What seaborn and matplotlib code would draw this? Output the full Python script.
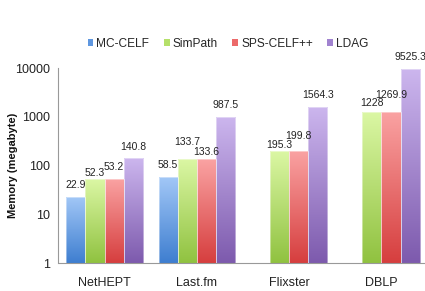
import numpy as np
import pandas as pd
import matplotlib
matplotlib.use("Agg")
import matplotlib.pyplot as plt
from matplotlib.patches import Patch
from matplotlib.colors import to_rgb
import seaborn as sns

# ---- data ----
datasets = ["NetHEPT", "Last.fm", "Flixster", "DBLP"]
algorithms = ["MC-CELF", "SimPath", "SPS-CELF++", "LDAG"]
mc_celf = [22.9, 58.5, np.nan, np.nan]
simpath = [52.3, 133.7, 195.3, 1228]
sps_celf = [53.2, 133.6, 199.8, 1269.9]
ldag = [140.8, 987.5, 1564.3, 9525.3]
y_ticks = [1, 10, 100, 1000, 10000]
y_tick_labels = ["1", "10", "100", "1000", "10000"]

# ---- style ----
grad_top = ["#A3C8F7", "#DBF7A4", "#FAA3A3", "#CCB6EE"]
grad_bot = ["#3E7ED0", "#90C240", "#D63E3E", "#7D5AAD"]
legend_cols = ["#5F97E0", "#B5E06A", "#EC6A6A", "#A183D0"]
label_offsets_px = [
    [12, 12, None, None],
    [6.5, 17.5, 6, 9],
    [11.5, 7, 15, 17],
    [11, 12, 12, 12],
]

sns.set_theme(style="white")
plt.rcParams["font.family"] = ["Liberation Sans", "DejaVu Sans"]

series = [mc_celf, simpath, sps_celf, ldag]
df = pd.DataFrame({
    "dataset": [d for s in series for d in datasets],
    "algorithm": [a for a in algorithms for _ in datasets],
    "memory": [v for s in series for v in s],
})

fig = plt.figure(figsize=(4.25, 2.91), dpi=100)
ax = fig.add_axes([58.5 / 425, 1 - 263 / 291, 369 / 425, 195 / 291])

sns.barplot(data=df, x="dataset", y="memory", hue="algorithm",
            order=datasets, hue_order=algorithms, palette=legend_cols,
            width=0.83, ax=ax, legend=False, errorbar=None,
            linewidth=0, saturation=1)

ax.set_yscale("log")
ax.set_ylim(1, 10000)
ax.set_xlim(-0.5, 3.5)

to_axes = ax.transData + ax.transAxes.inverted()
N = 256
for i, cont in enumerate(ax.containers):
    top = np.array(to_rgb(grad_top[i]))
    bot = np.array(to_rgb(grad_bot[i]))
    t = np.linspace(0, 1, N)[:, None]
    img = (top[None, :] * (1 - t) + bot[None, :] * t)[:, None, :]
    for j, p in enumerate(cont.patches):
        h = series[i][j]
        if h is None or not np.isfinite(h):
            continue
        x0 = p.get_x()
        x1 = x0 + p.get_width()
        (ax0, ay0), (ax1, ay1) = to_axes.transform([(x0, 1), (x1, h)])
        p.set_facecolor("none")
        im = ax.imshow(img, extent=(ax0, ax1, ay0, ay1), transform=ax.transAxes,
                       aspect="auto", origin="upper", zorder=2, interpolation="bilinear")
        im.set_clip_path(p)
        ax.add_patch(plt.Rectangle((x0, 1), x1 - x0, h - 1, fill=False,
                                   edgecolor=(1, 1, 1, 0.5), linewidth=0.6, zorder=3))
        ax.annotate(f"{h:g}", (x0 + (x1 - x0) / 2, h),
                    xytext=(0, label_offsets_px[i][j]), textcoords="offset pixels",
                    ha="center", va="center", fontsize=7.5, color="#222222", zorder=4)

ax.set_xlim(-0.5, 3.5)
ax.set_ylim(1, 10000)
ax.set_yticks(y_ticks)
ax.set_yticklabels(y_tick_labels)
ax.minorticks_off()
ax.tick_params(axis="y", length=0, pad=6, labelsize=9, labelcolor="#222222")
ax.tick_params(axis="x", length=0, pad=10, labelsize=9, labelcolor="#222222")
ax.set_xlabel("")
ax.set_ylabel("Memory (megabyte)", fontsize=8, fontweight="bold", color="#111111",
              va="center")
ax.yaxis.set_label_coords((13 - 58.5) / 369, 0.5)
for s in ["top", "right"]:
    ax.spines[s].set_visible(False)
for s in ["left", "bottom"]:
    ax.spines[s].set_color("#999999")
    ax.spines[s].set_linewidth(0.8)

handles = [Patch(facecolor=c, edgecolor="none") for c in legend_cols]
fig.legend(handles, algorithms, loc="center", bbox_to_anchor=(228 / 425, 1 - 44 / 291),
           ncol=4, frameon=False, fontsize=8.6, handlelength=0.5, handleheight=0.5,
           handletextpad=0.25, columnspacing=1.2, borderpad=0)

fig.savefig("out.png", dpi=100)
